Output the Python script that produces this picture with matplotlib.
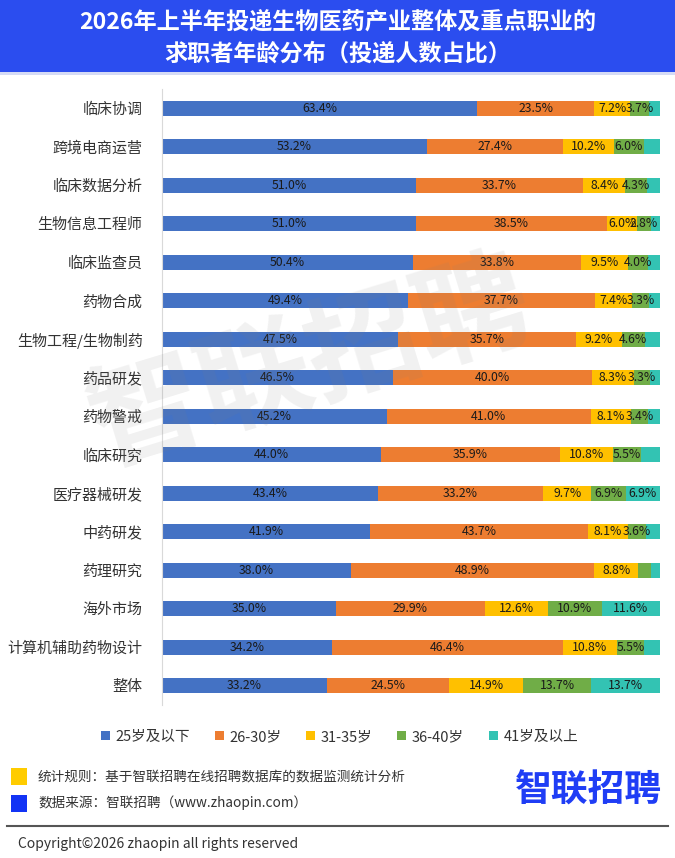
import numpy as np
import matplotlib.pyplot as plt
from matplotlib.patches import Patch, Rectangle

plt.rcParams['font.family'] = ['Noto Sans CJK SC', 'DejaVu Sans']

categories = ['临床协调', '跨境电商运营', '临床数据分析', '生物信息工程师', '临床监查员',
              '药物合成', '生物工程/生物制药', '药品研发', '药物警戒', '临床研究',
              '医疗器械研发', '中药研发', '药理研究', '海外市场', '计算机辅助药物设计', '整体']
age_le25 = [63.4, 53.2, 51.0, 51.0, 50.4, 49.4, 47.5, 46.5, 45.2, 44.0, 43.4, 41.9, 38.0, 35.0, 34.2, 33.2]
age_26_30 = [23.5, 27.4, 33.7, 38.5, 33.8, 37.7, 35.7, 40.0, 41.0, 35.9, 33.2, 43.7, 48.9, 29.9, 46.4, 24.5]
age_31_35 = [7.2, 10.2, 8.4, 6.0, 9.5, 7.4, 9.2, 8.3, 8.1, 10.8, 9.7, 8.1, 8.8, 12.6, 10.8, 14.9]
age_36_40 = [3.7, 6.0, 4.3, 2.8, 4.0, 3.3, 4.6, 3.3, 3.4, 5.5, 6.9, 3.6, 2.6, 10.9, 5.5, 13.7]
age_ge41 = [2.2, 3.2, 2.6, 1.7, 2.3, 2.2, 3.0, 1.9, 2.3, 3.8, 6.9, 2.7, 1.7, 11.6, 3.1, 13.7]
series_names = ['25岁及以下', '26-30岁', '31-35岁', '36-40岁', '41岁及以上']
colors = ['#4472C4', '#ED7D31', '#FFC000', '#70AD47', '#33C3B3']
label_min = [0, 0, 0, 2.8, 5.0]

W, H = 675, 858
fig = plt.figure(figsize=(W / 100, H / 100), dpi=100)

# header band
fig.patches.append(Rectangle((0, 1 - 72 / H), 1, 72 / H, transform=fig.transFigure,
                             facecolor='#2B4DEF', edgecolor='none', zorder=0))
fig.patches.append(Rectangle((0, 1 - 75 / H), 1, 3 / H, transform=fig.transFigure,
                             facecolor='#D5DBF5', edgecolor='none', zorder=0))
fig.text(0.5, 1 - 22 / H, '2026年上半年投递生物医药产业整体及重点职业的', color='white',
         fontsize=16.7, fontweight='bold', ha='center', va='center')
fig.text(0.5, 1 - 54 / H, '求职者年龄分布（投递人数占比）', color='white',
         fontsize=16.7, fontweight='bold', ha='center', va='center')

ax = fig.add_axes([162 / W, 1 - 705 / H, 498 / W, 616 / H])
y = np.arange(len(categories))
data = [age_le25, age_26_30, age_31_35, age_36_40, age_ge41]
left = np.zeros(len(categories))
for vals, c, name, lim in zip(data, colors, series_names, label_min):
    vals = np.array(vals)
    bars = ax.barh(y, vals, left=left, height=0.4, color=c, label=name)
    for b, v in zip(bars, vals):
        if v >= lim:
            ax.text(b.get_x() + b.get_width() / 2, b.get_y() + b.get_height() / 2,
                    f'{v:.1f}%', ha='center', va='center', fontsize=8.8, color='#1a1a1a')
    left += vals

ax.set_xlim(0, left.max())
ax.set_ylim(len(categories) - 0.5, -0.5)
ax.set_yticks(y)
ax.set_yticklabels(categories, fontsize=10.8, color='#333333')
ax.tick_params(axis='y', length=0, pad=14)
ax.set_xticks([])
for s in ['top', 'right', 'bottom']:
    ax.spines[s].set_visible(False)
ax.spines['left'].set_color('#d9d9d9')

# watermark
fig.text(0.46, 0.575, '智联招聘', fontsize=82, fontweight='bold', color='#808080',
         alpha=0.11, rotation=17, ha='center', va='center', zorder=10)

handles = [Patch(facecolor=c, edgecolor='none', label=n) for c, n in zip(colors, series_names)]
fig.legend(handles=handles, loc='center', bbox_to_anchor=(0.503, 1 - 737 / H), ncol=5,
           frameon=False, fontsize=10.5, handlelength=0.6, handleheight=0.6,
           handletextpad=0.4, columnspacing=1.7, labelcolor='#333333')

# footer
fig.patches.append(Rectangle((11 / W, 1 - 785 / H), 16 / W, 17 / H, transform=fig.transFigure,
                             facecolor='#FFCC00', edgecolor='none'))
fig.patches.append(Rectangle((11 / W, 1 - 812 / H), 16 / W, 17 / H, transform=fig.transFigure,
                             facecolor='#1233F5', edgecolor='none'))
fig.text(38 / W, 1 - 776 / H, '统计规则：基于智联招聘在线招聘数据库的数据监测统计分析',
         fontsize=9.8, color='#333333', va='center')
fig.text(38 / W, 1 - 803 / H, '数据来源：智联招聘（www.zhaopin.com）',
         fontsize=9.8, color='#333333', va='center')
fig.text(662 / W, 1 - 791 / H, '智联招聘', fontsize=26.5, fontweight='bold', color='#1F3DF5',
         ha='right', va='center')
fig.add_artist(plt.Line2D([7 / W, 668 / W], [1 - 826 / H, 1 - 826 / H], color='#555555', lw=1.5))
fig.text(18 / W, 1 - 844 / H, 'Copyright©2026 zhaopin all rights reserved',
         fontsize=10, color='#333333', va='center')

fig.savefig('out.png', dpi=100)
